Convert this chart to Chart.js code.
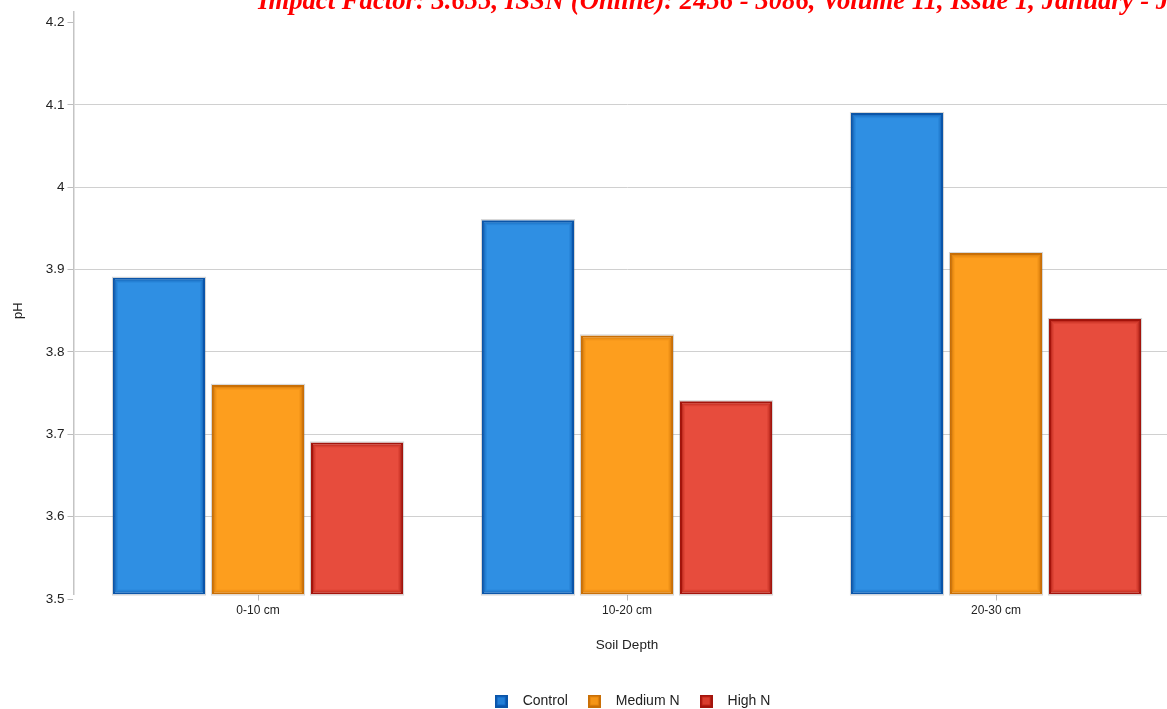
<!DOCTYPE html>
<html>
<head>
<meta charset="utf-8">
<script src="https://cdn.jsdelivr.net/npm/chart.js@4.4.1/dist/chart.umd.min.js"></script>
<style>
html,body{margin:0;padding:0;overflow:hidden;background:#fff;width:1167px;height:709px;}
#wrap{position:absolute;left:0;top:0;width:1257px;height:709px;}
</style>
</head>
<body>
<div id="wrap"><canvas id="c"></canvas></div>
<script>
// ---- data ----
const categories = ['0-10 cm', '10-20 cm', '20-30 cm'];
const seriesNames = ['Control', 'Medium N', 'High N'];
const controlValues = [3.89, 3.96, 4.09];
const mediumNValues = [3.76, 3.82, 3.92];
const highNValues = [3.69, 3.74, 3.84];
const yTickValues = [3.5, 3.6, 3.7, 3.8, 3.9, 4.0, 4.1, 4.2];
const yTickLabels = ['3.5', '3.6', '3.7', '3.8', '3.9', '4', '4.1', '4.2'];
const xAxisTitle = 'Soil Depth';
const yAxisTitle = 'pH';
const headerText = 'Impact Factor: 3.655, ISSN (Online): 2456 - 3086, Volume 11, Issue 1, January - June 2025';

// ---- axis range / styles ----
const Y_MIN = 3.5055;
const Y_MAX = 4.2127;
const fills = ['#2f8fe3', '#fd9e1e', '#e74c3d'];
const borders = ['#0b55a8', '#c96f06', '#a3140c'];
const swatchFills = ['#1266c4', '#e8870e', '#c42618'];
const FONT = '"Liberation Sans", Arial, Helvetica, sans-serif';
Chart.defaults.font.family = FONT;
Chart.defaults.color = '#222';

function rgba(hex, a) {
  const n = parseInt(hex.slice(1), 16);
  return `rgba(${(n >> 16) & 255},${(n >> 8) & 255},${n & 255},${a})`;
}

function makeSwatch(i) {
  const c = document.createElement('canvas');
  c.width = 13; c.height = 13;
  const g = c.getContext('2d');
  g.fillStyle = borders[i]; g.fillRect(0, 0, 13, 13);
  g.fillStyle = swatchFills[i]; g.fillRect(2, 2, 9, 9);
  g.fillStyle = rgba(fills[i], 0.6); g.fillRect(3, 3, 7, 7);
  return c;
}
const swatches = [0, 1, 2].map(makeSwatch);

const bevel = {
  id: 'bevel',
  afterDatasetDraw(chart, args) {
    const ctx = chart.ctx;
    const col = borders[args.index];
    ctx.save();
    ctx.lineWidth = 1;
    args.meta.data.forEach(bar => {
      const p = bar.getProps(['x', 'y', 'base', 'width'], true);
      const l = p.x - p.width / 2, r = p.x + p.width / 2;
      const t = Math.min(p.y, p.base), b = Math.max(p.y, p.base);
      ctx.strokeStyle = 'rgba(110,110,110,0.3)';
      ctx.strokeRect(l - 0.5, t - 0.5, r - l + 1, b - t + 1);
      [[2.5, 0.5], [3.5, 0.28], [4.5, 0.12]].forEach(([ins, a]) => {
        ctx.strokeStyle = rgba(col, a);
        ctx.strokeRect(l + ins, t + ins, r - l - 2 * ins, b - t - 2 * ins);
      });
    });
    ctx.restore();
  }
};

const header = {
  id: 'header',
  afterDraw(chart) {
    const ctx = chart.ctx;
    ctx.save();
    ctx.font = 'italic bold 26.7px "Liberation Serif", "Times New Roman", serif';
    ctx.fillStyle = '#ff0000';
    ctx.textBaseline = 'alphabetic';
    ctx.textAlign = 'left';
    ctx.fillText(headerText, 258, 9);
    // y-axis title, centred on the 3.5–4.2 tick span
    const ys = chart.scales.y;
    const midY = (ys.getPixelForValue(yTickValues[0]) + ys.getPixelForValue(yTickValues[yTickValues.length - 1])) / 2;
    ctx.translate(18, midY);
    ctx.rotate(-Math.PI / 2);
    ctx.font = '13px ' + FONT;
    ctx.fillStyle = '#222';
    ctx.textAlign = 'center';
    ctx.textBaseline = 'middle';
    ctx.fillText(yAxisTitle, 0, 0);
    ctx.restore();
  }
};

const seriesValues = [controlValues, mediumNValues, highNValues];

new Chart(document.getElementById('c'), {
  type: 'bar',
  data: {
    labels: categories,
    datasets: seriesNames.map((name, i) => ({
      label: name,
      data: seriesValues[i],
      yAxisID: 'y',
      base: Y_MIN,
      backgroundColor: fills[i],
      borderColor: borders[i],
      borderWidth: 2,
      borderSkipped: false,
      categoryPercentage: 0.805,
      barPercentage: 0.93
    }))
  },
  options: {
    responsive: true,
    maintainAspectRatio: false,
    animation: false,
    devicePixelRatio: 1,
    layout: { padding: { top: 12, left: 0, right: 0, bottom: -9 } },
    plugins: {
      tooltip: { enabled: false },
      legend: {
        position: 'bottom',
        labels: {
          usePointStyle: true,
          pointStyleWidth: 29,
          padding: 12,
          color: '#222',
          font: { size: 14 },
          generateLabels(chart) {
            const items = Chart.defaults.plugins.legend.labels.generateLabels(chart);
            items.forEach((it, i) => { it.pointStyle = swatches[i]; });
            return items;
          }
        }
      }
    },
    scales: {
      x: {
        offset: true,
        grid: { display: true, drawOnChartArea: false, offset: false, tickLength: 6, tickColor: '#bbbbbb', color: '#bbbbbb' },
        border: { display: false },
        ticks: { color: '#222', font: { size: 12 }, padding: 3 },
        title: { display: true, text: xAxisTitle, color: '#222', font: { size: 13.5 }, padding: { top: 16.0, bottom: 28.9 } }
      },
      y: {
        type: 'linear',
        position: 'left',
        min: Y_MIN,
        max: Y_MAX,
        afterBuildTicks(s) { s.ticks = yTickValues.map(v => ({ value: v })); },
        ticks: {
          color: '#222', font: { size: 13.5 }, padding: 3,
          callback: (v, i) => yTickLabels[i]
        },
        grid: {
          color: (c) => (c.tick && (Math.abs(c.tick.value - 3.5) < 1e-6 || Math.abs(c.tick.value - 4.2) < 1e-6)) ? 'rgba(0,0,0,0)' : '#d0d0d0',
          tickColor: '#bbbbbb',
          tickLength: 6,
          lineWidth: 1
        },
        border: { display: true, color: '#c4c4c4', width: 1.5 },
        title: { display: false },
        afterFit(s) { s.width = 73.5; }
      },
      yR: {
        type: 'linear',
        position: 'right',
        display: true,
        grid: { display: false, drawTicks: false },
        border: { display: false },
        ticks: { display: false },
        afterFit(s) { s.width = 76.5; }
      }
    }
  },
  plugins: [bevel, header]
});
</script>
</body>
</html>
